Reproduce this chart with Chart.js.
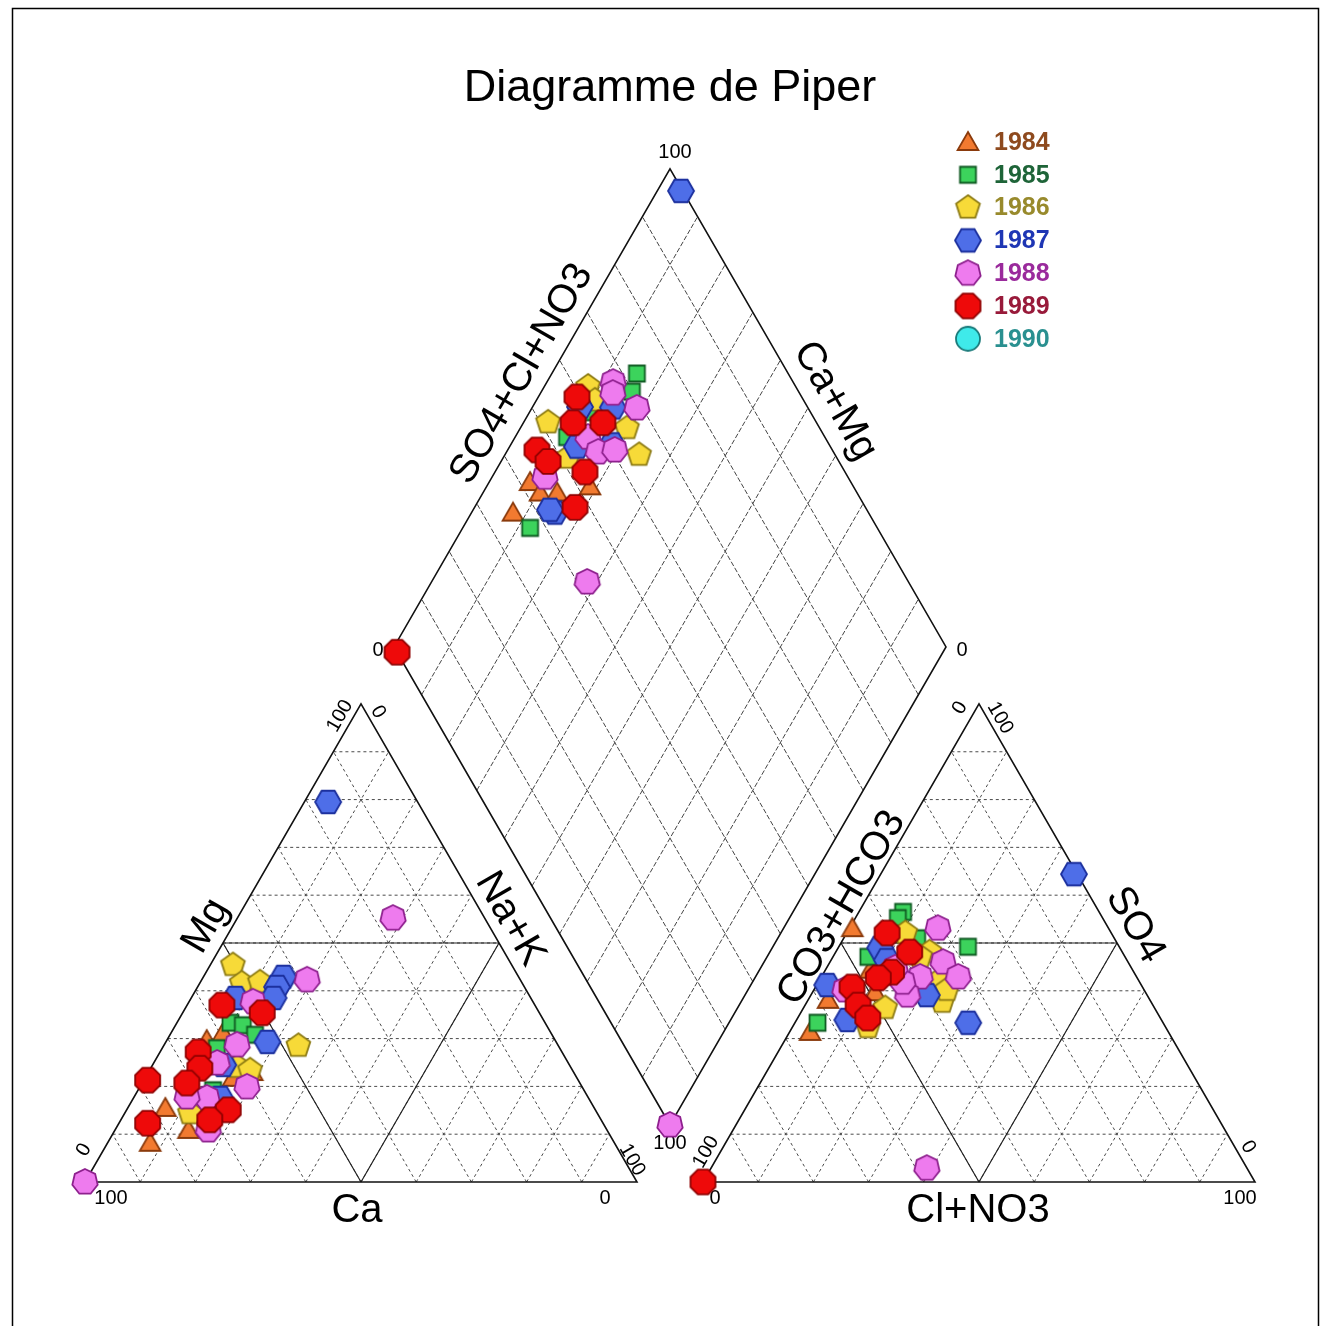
<!DOCTYPE html>
<html><head><meta charset="utf-8">
<script src="https://cdn.jsdelivr.net/npm/chart.js@4.4.1/dist/chart.umd.min.js"></script>
<style>
html,body{margin:0;padding:0;background:#fff;}
#wrap{position:relative;width:1332px;height:1326px;}
canvas{display:block;}
</style></head><body>
<div id="wrap"><canvas id="c" width="1332" height="1326"></canvas></div>
<script>
// ---------------- DATA ----------------
const years = ['1984','1985','1986','1987','1988','1989','1990'];

// Cation triangle: [Mg %, Na+K %]   (Ca % = 100 - Mg - Na+K)
const cat1984 = [[29.7,7.2],[23.0,18.8],[21.8,15.9],[15.5,6.8],[10.9,13.3],[8.2,7.7],[31.2,9.4]];
const cat1985 = [[33.3,9.7],[32.8,12.2],[30.8,15.4],[28.0,9.9],[19.2,13.6]];
const cat1986 = [[45.4,4.1],[41.6,7.6],[41.8,10.8],[28.5,24.4],[24.1,15.5],[14.4,11.8],[23.4,18.2]];
const cat1987 = [[42.9,14.5],[40.8,14.4],[38.5,14.9],[38.5,8.0],[29.3,18.4],[24.5,12.8],[17.6,15.7],[79.5,4.3]];
const cat1988 = [[42.3,19.1],[37.7,11.6],[28.7,13.2],[24.9,11.5],[19.9,19.4],[17.6,13.3],[17.8,9.6],[10.9,16.9],[0,0],[55.2,28.2]];
const cat1989 = [[37.0,6.3],[35.4,14.4],[27.2,6.9],[23.8,8.9],[21.3,0.7],[20.7,8.1],[15.1,18.4],[13.0,16.1],[12.3,5.2]];
const cat1990 = [];

// Anion triangle: [SO4 %, Cl+NO3 %]   (CO3+HCO3 % = 100 - SO4 - Cl)
const an1984 = [[53.1,0.5],[38.1,3.6],[31.4,3.7],[44.4,8.1],[39.7,11.3]];
const an1985 = [[56.5,8.0],[55.2,7.7],[51.0,13.3],[49.2,23.4],[47.1,6.4],[33.3,4.1]];
const an1986 = [[52.1,10.6],[48.1,17.0],[42.3,21.8],[37.7,24.5],[36.4,14.8],[32.4,13.7],[47.1,15.8],[40.2,24.1]];
const an1987 = [[41.2,1.9],[49.0,7.6],[39.1,21.0],[33.9,9.2],[33.3,31.4],[46.4,10.1],[64.4,35.0]];
const an1988 = [[53.1,16.0],[46.0,20.5],[42.9,24.8],[42.9,17.9],[39.1,17.5],[41.8,15.3],[44.8,12.4],[40.2,5.6],[2.9,39.1]];
const an1989 = [[52.1,7.3],[48.1,13.4],[43.9,12.2],[42.7,10.4],[40.8,6.6],[37.0,9.6],[34.3,12.7],[0,0]];
const an1990 = [];

// Diamond: [Ca+Mg %, SO4+Cl+NO3 %]
const dia1984 = [[92.6,41.9],[89.7,42.6],[86.6,45.7],[81.3,52.3],[92.5,35.6]];
const dia1985 = [[84.6,72.6],[83.6,69.8],[90.6,53.3],[87.8,37.1],[89.4,59.7]];
const dia1986 = [[92.1,62.4],[89.4,62.2],[95.6,51.4],[80.7,65.1],[75.7,64.5],[88.3,51.3]];
const dia1987 = [[91.4,58.8],[85.4,64.7],[87.8,54.1],[81.7,60.7],[84.9,43.2],[86.1,42.6],[95.7,99.7]];
const dia1988 = [[88.0,67.4],[86.9,66.2],[81.0,69.0],[86.8,57.1],[83.4,57.4],[80.6,60.6],[90.4,45.1],[71.8,41.8],[0,0]];
const dia1989 = [[93.0,59.3],[91.0,55.9],[85.6,61.3],[94.7,46.5],[91.5,47.3],[83.7,52.9],[81.8,47.4],[98.9,0]];
const dia1990 = [];

const gridTicks = [10,20,30,40,50,60,70,80,90];

// ---------------- GEOMETRY / STYLE ----------------
const SIDE = 552, HGT = SIDE*Math.sqrt(3)/2;
const CAT_X0 = 85, AN_X0 = 703, BASE_Y = 1182;
const DB = {x:670, y:1125}; // diamond bottom vertex
function catPos(mg, nak){ return {x: CAT_X0 + SIDE*(nak + mg/2)/100, y: BASE_Y - HGT*mg/100}; }
function anPos(so4, cl){ return {x: AN_X0 + SIDE*(cl + so4/2)/100, y: BASE_Y - HGT*so4/100}; }
function diaPos(u, v){ return {x: DB.x + (SIDE/2)*(v-u)/100, y: DB.y - HGT*(u+v)/100}; }

const styles = [
  {sides:3, r:12, rot:-90, fill:'#F27A30', stroke:'#8A3A0C', text:'#8E4A1E'},
  {sides:4, r:11.3, rot:45, fill:'#3CD35C', stroke:'#0F5A22', text:'#1E6438'},
  {sides:5, r:12.5, rot:-90, fill:'#F7DA38', stroke:'#8C7A12', text:'#988A2C'},
  {sides:6, r:13, rot:0, fill:'#4E6EE8', stroke:'#1C309E', text:'#1E36B4'},
  {sides:7, r:13, rot:-90, fill:'#EE7BEE', stroke:'#8E208E', text:'#9A2A9C'},
  {sides:8, r:13.5, rot:22.5, fill:'#EE0A0A', stroke:'#900000', text:'#981A3A'},
  {sides:0, r:12, rot:0, fill:'#3FEAEA', stroke:'#1A7A7A', text:'#2A9090'}
];
function makeMarker(st){
  const lw = 1.8;
  const s = Math.ceil(2*st.r + 2*lw + 2);
  const c = document.createElement('canvas'); c.width = s; c.height = s;
  const g = c.getContext('2d');
  g.translate(s/2, s/2 + (st.sides===3 ? 2 : 0));
  g.beginPath();
  if (st.sides === 0) g.arc(0,0,st.r,0,Math.PI*2);
  else for (let i=0;i<st.sides;i++){
    const a = (st.rot + i*360/st.sides)*Math.PI/180;
    const X = st.r*Math.cos(a), Y = st.r*Math.sin(a);
    if (i) g.lineTo(X,Y); else g.moveTo(X,Y);
  }
  g.closePath(); g.fillStyle = st.fill; g.fill();
  g.lineWidth = lw; g.strokeStyle = st.stroke; g.lineJoin='miter'; g.stroke();
  return c;
}
const markers = styles.map(makeMarker);

const catAll = [cat1984,cat1985,cat1986,cat1987,cat1988,cat1989,cat1990];
const anAll  = [an1984,an1985,an1986,an1987,an1988,an1989,an1990];
const diaAll = [dia1984,dia1985,dia1986,dia1987,dia1988,dia1989,dia1990];

const datasets = years.map((yr,i)=>({
  label: yr,
  data: [
    ...catAll[i].map(p=>catPos(p[0],p[1])),
    ...anAll[i].map(p=>anPos(p[0],p[1])),
    ...diaAll[i].map(p=>diaPos(p[0],p[1]))
  ],
  pointStyle: markers[i],
  pointRadius: 12,
  order: 10 - i,
  clip: false
}));

const FONT = '"Liberation Sans", Arial, sans-serif';

const piperPlugin = {
  id: 'piper',
  beforeDatasetsDraw(chart){
    const ctx = chart.ctx, xs = chart.scales.x, ys = chart.scales.y;
    const P = p => [xs.getPixelForValue(p.x), ys.getPixelForValue(p.y)];
    const seg = (a,b) => { const A=P(a), B=P(b); ctx.moveTo(A[0],A[1]); ctx.lineTo(B[0],B[1]); };
    ctx.save();
    // dashed grid (triangles)
    ctx.beginPath();
    for (const t of gridTicks){
      seg(catPos(t,0), catPos(t,100-t));
      seg(catPos(0,t), catPos(100-t,t));
      seg(catPos(0,100-t), catPos(100-t,0));
      seg(anPos(t,0), anPos(t,100-t));
      seg(anPos(0,t), anPos(100-t,t));
      seg(anPos(0,100-t), anPos(100-t,0));
    }
    ctx.setLineDash([3,3]); ctx.strokeStyle='#4a4a4a'; ctx.lineWidth=1; ctx.stroke();
    // diamond grid
    ctx.beginPath();
    for (const t of gridTicks){
      seg(diaPos(t,0), diaPos(t,100));
      seg(diaPos(0,t), diaPos(100,t));
    }
    ctx.setLineDash([5,2]); ctx.strokeStyle='#444'; ctx.lineWidth=1; ctx.stroke();
    ctx.setLineDash([]);
    // mid subdivisions (solid)
    ctx.beginPath();
    seg(catPos(50,0), catPos(50,50)); seg(catPos(0,50), catPos(50,50)); seg(catPos(50,0), catPos(0,50));
    seg(anPos(50,0), anPos(50,50)); seg(anPos(0,50), anPos(50,50)); seg(anPos(50,0), anPos(0,50));
    ctx.strokeStyle='#222'; ctx.lineWidth=1.2; ctx.stroke();
    // outlines
    ctx.beginPath();
    const poly = pts => { pts.forEach((p,k)=>{ const A=P(p); if(k) ctx.lineTo(A[0],A[1]); else ctx.moveTo(A[0],A[1]); }); ctx.closePath(); };
    poly([catPos(0,0), catPos(0,100), catPos(100,0)]);
    poly([anPos(0,0), anPos(0,100), anPos(100,0)]);
    poly([diaPos(0,0), diaPos(100,0), diaPos(100,100), diaPos(0,100)]);
    ctx.strokeStyle='#111'; ctx.lineWidth=1.6; ctx.stroke();

    // texts
    const txt = (s, p, deg, size, opt={}) => {
      const A = P(p);
      ctx.save(); ctx.translate(A[0],A[1]); ctx.rotate(deg*Math.PI/180);
      ctx.font = (opt.bold?'bold ':'') + size + 'px ' + FONT;
      ctx.fillStyle = opt.color || '#000'; ctx.textAlign = opt.align || 'center'; ctx.textBaseline='middle';
      ctx.fillText(s,0,0); ctx.restore();
    };
    txt('Diagramme de Piper', {x:670,y:89}, 0, 45);
    txt('Mg', {x:206,y:926}, -60, 40);
    txt('Ca', {x:357,y:1211}, 0, 40);
    txt('Na+K', {x:510,y:919}, 60, 40);
    txt('CO3+HCO3', {x:842,y:908}, -60, 40);
    txt('SO4', {x:1135,y:925}, 60, 40);
    txt('Cl+NO3', {x:978,y:1211}, 0, 40);
    txt('SO4+Cl+NO3', {x:522,y:374}, -60, 40);
    txt('Ca+Mg', {x:835,y:401}, 60, 40);
    // ticks
    const T = 20;
    txt('100', {x:340,y:716}, -60, T);
    txt('0', {x:378,y:712}, 60, T);
    txt('0', {x:84,y:1150}, -60, T);
    txt('100', {x:111,y:1198}, 0, T);
    txt('0', {x:605,y:1198}, 0, T);
    txt('100', {x:632,y:1160}, 60, T);
    txt('100', {x:706,y:1152}, -60, T);
    txt('0', {x:715,y:1198}, 0, T);
    txt('100', {x:1240,y:1198}, 0, T);
    txt('0', {x:1248,y:1147}, 60, T);
    txt('0', {x:960,y:708}, -60, T);
    txt('100', {x:1000,y:718}, 60, T);
    txt('100', {x:675,y:152}, 0, T);
    txt('0', {x:378,y:650}, 0, T);
    txt('0', {x:962,y:650}, 0, T);
    txt('100', {x:670,y:1143}, 0, T);
    ctx.restore();
  },
  afterDraw(chart){
    const ctx = chart.ctx, xs = chart.scales.x, ys = chart.scales.y;
    ctx.save();
    // legend
    years.forEach((yr,i)=>{
      const cx = xs.getPixelForValue(968), cy = ys.getPixelForValue(142 + i*32.8);
      const m = markers[i];
      ctx.drawImage(m, cx - m.width/2, cy - m.height/2);
      ctx.font = 'bold 25px ' + FONT; ctx.fillStyle = styles[i].text;
      ctx.textAlign = 'left'; ctx.textBaseline = 'middle';
      ctx.fillText(yr, xs.getPixelForValue(994), cy + 1);
    });
    // frame
    ctx.beginPath();
    ctx.moveTo(12.5, 1326); ctx.lineTo(12.5, 8.5); ctx.lineTo(1318.5, 8.5); ctx.lineTo(1318.5, 1326);
    ctx.strokeStyle = '#000'; ctx.lineWidth = 1.5; ctx.stroke();
    ctx.restore();
  }
};

new Chart(document.getElementById('c'), {
  type: 'scatter',
  data: { datasets },
  options: {
    responsive: false,
    animation: false,
    devicePixelRatio: 1,
    layout: { padding: 0, autoPadding: false },
    scales: {
      x: { type:'linear', min:0, max:1332, display:false },
      y: { type:'linear', min:0, max:1326, reverse:true, display:false }
    },
    plugins: { legend:{display:false}, tooltip:{enabled:false}, title:{display:false} }
  },
  plugins: [piperPlugin]
});
</script>
</body></html>
